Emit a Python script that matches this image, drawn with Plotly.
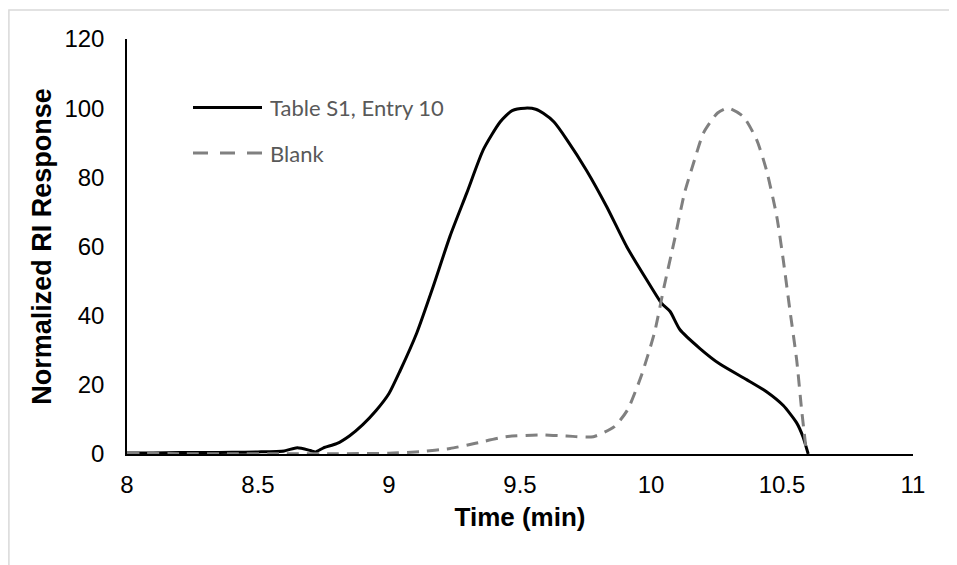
import plotly.graph_objects as go

# ---- data ----
entry_time = [8.0, 8.1, 8.2, 8.3, 8.4, 8.5, 8.6, 8.65, 8.7, 8.72, 8.75, 8.8, 8.85, 8.9,
              8.95, 9.0, 9.042, 9.106, 9.169, 9.233, 9.297, 9.36, 9.424, 9.47, 9.519,
              9.56, 9.589, 9.63, 9.678, 9.754, 9.831, 9.907, 9.984, 10.041, 10.073,
              10.11, 10.187, 10.263, 10.365, 10.441, 10.505, 10.556, 10.58, 10.6]
entry_resp = [0.3, 0.3, 0.4, 0.4, 0.5, 0.6, 0.9, 1.8, 1.0, 0.6, 1.8, 3.0, 5.3, 8.5,
              12.5, 17.5, 24.0, 35.0, 48.5, 63.0, 75.5, 88.0, 96.0, 99.3, 100.0,
              99.7, 98.5, 96.0, 91.0, 82.0, 71.5, 60.0, 50.3, 43.5, 41.2,
              36.0, 30.5, 26.0, 21.5, 18.0, 14.0, 9.0, 5.0, 0.0]

blank_time = [8.0, 8.2, 8.4, 8.6, 8.8, 9.0, 9.118, 9.233, 9.33, 9.446, 9.576, 9.678,
              9.78, 9.86, 9.91, 9.962, 10.013, 10.05, 10.09, 10.128, 10.166, 10.2,
              10.254, 10.295, 10.352, 10.403, 10.441, 10.48, 10.505, 10.53, 10.556,
              10.575, 10.594]
blank_resp = [0.2, 0.1, 0.1, 0.1, 0.1, 0.2, 0.7, 1.6, 3.1, 5.0, 5.5, 5.2,
              5.0, 7.9, 12.7, 22.4, 35.0, 48.4, 62.0, 75.5, 85.0, 92.8,
              98.6, 100.0, 97.6, 90.9, 82.0, 68.7, 56.0, 41.7, 27.2,
              12.7, 0.0]

series_names = ["Table S1, Entry 10", "Blank"]
x_ticks = [8, 8.5, 9, 9.5, 10, 10.5, 11]
x_tick_labels = ["8", "8.5", "9", "9.5", "10", "10.5", "11"]
y_ticks = [0, 20, 40, 60, 80, 100, 120]

BLACK = "#000000"
GRAY = "#808080"
DASH = "12px,8px"
LEG_DASH = "15px,12px"
AX_FONT = "Liberation Sans, Arial"

fig = go.Figure()
fig.add_trace(go.Scatter(x=entry_time, y=entry_resp, mode="lines", name=series_names[0],
                         line=dict(color=BLACK, width=3, shape="spline", smoothing=0.6),
                         showlegend=False))
fig.add_trace(go.Scatter(x=blank_time, y=blank_resp, mode="lines", name=series_names[1],
                         line=dict(color=GRAY, width=3, dash=DASH, shape="spline", smoothing=0.6),
                         showlegend=False))

W, H = 957, 565
OFF = 8  # page body margin offsets the figure on screen
# target plot-area edges in screen pixels
PX_L, PX_R, PX_T, PX_B = 127, 913, 39, 454
L = PX_L - OFF
T = PX_T - OFF
R = W - (PX_R - OFF)
B = H - (PX_B - OFF)
pw, ph = PX_R - PX_L, PX_B - PX_T

def px2paper(px, py):
    return (px - PX_L) / pw, (PX_B - py) / ph

shapes = []
# outer chart border (light gray)
bx0, by1 = px2paper(OFF + 0.9, 10)
bx1, by0 = px2paper(975, 590)
shapes.append(dict(type="rect", xref="paper", yref="paper", x0=bx0, x1=bx1, y0=by0, y1=by1,
                   line=dict(color="#d9d9d9", width=1.5), layer="below"))
# legend lines
lx0, ly1 = px2paper(193, 107.5)
lx1, ly2 = px2paper(262, 153)
shapes.append(dict(type="line", xref="paper", yref="paper", x0=lx0, x1=lx1, y0=ly1, y1=ly1,
                   line=dict(color=BLACK, width=3)))
shapes.append(dict(type="line", xref="paper", yref="paper", x0=lx0, x1=lx1, y0=ly2, y1=ly2,
                   line=dict(color=GRAY, width=3, dash=LEG_DASH)))
tx, _ = px2paper(268, 0)
annotations = [
    dict(x=tx, y=ly1, xref="paper", yref="paper", text=series_names[0], showarrow=False,
         xanchor="left", yanchor="middle", font=dict(family="Lato", size=22, color="#595959")),
    dict(x=tx, y=ly2, xref="paper", yref="paper", text=series_names[1], showarrow=False,
         xanchor="left", yanchor="middle", font=dict(family="Lato", size=22, color="#595959")),
]

fig.update_layout(
    width=W, height=H,
    margin=dict(l=L, r=R, t=T, b=B, pad=0),
    paper_bgcolor="white", plot_bgcolor="white",
    font=dict(family=AX_FONT, color="#000000", size=24),
    shapes=shapes, annotations=annotations,
    xaxis=dict(range=[8, 11], tickvals=x_ticks, ticktext=x_tick_labels, automargin=False,
               showgrid=False, zeroline=False, showline=True, linecolor="#000000", linewidth=1.5,
               ticks="", ticklabelstandoff=8, tickfont=dict(size=24),
               title=dict(text="<b>Time (min)</b>", standoff=11,
                          font=dict(family=AX_FONT, size=26))),
    yaxis=dict(range=[0, 120], tickvals=y_ticks, automargin=False,
               showgrid=False, zeroline=False, showline=True, linecolor="#000000", linewidth=1.5,
               ticks="", ticklabelstandoff=16, tickfont=dict(size=24),
               title=dict(text="<b>Normalized RI Response</b>", standoff=5,
                          font=dict(family=AX_FONT, size=27))),
)

fig.write_html("out.html")
